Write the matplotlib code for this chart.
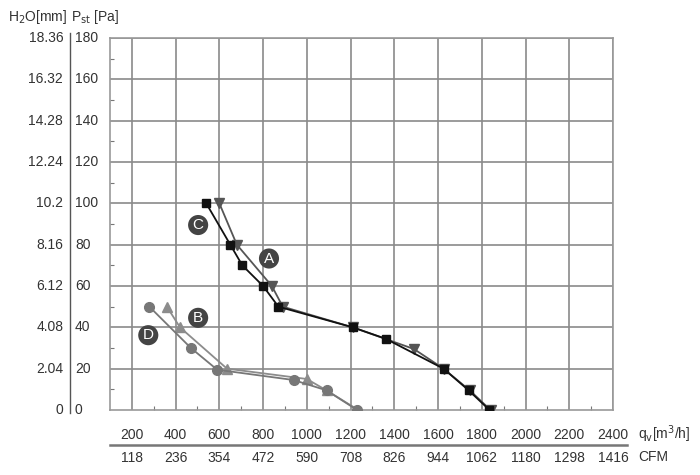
import numpy as np
import matplotlib.pyplot as plt

plt.rcParams['font.family'] = ['Liberation Sans', 'DejaVu Sans']

# flow rate q_v [m3/h] and static pressure P_st [Pa] for each curve
a_q = [600, 680, 840, 890, 1210, 1490, 1625, 1745, 1840]
a_p = [100, 80, 60, 50, 40, 29.5, 20, 9.5, 0]
c_q = [540, 650, 705, 800, 870, 1210, 1360, 1625, 1740, 1835]
c_p = [100, 80, 70, 60, 50, 40, 34.5, 20, 9.5, 0]
b_q = [360, 420, 635, 1000, 1090, 1235]
b_p = [50, 40, 20, 15, 9.5, 0]
d_q = [280, 470, 590, 940, 1090, 1230]
d_p = [50, 30, 19.5, 14.5, 9.5, 0]

# curve name tags (position in data units)
tag_names = ["C", "A", "B", "D"]
tag_q = [503, 827, 503, 275]
tag_p = [89.5, 73.3, 44.6, 36.2]

pa_ticks = [0, 20, 40, 60, 80, 100, 120, 140, 160, 180]
mm_labels = ["0", "2.04", "4.08", "6.12", "8.16", "10.2", "12.24", "14.28", "16.32", "18.36"]
q_ticks = [200, 400, 600, 800, 1000, 1200, 1400, 1600, 1800, 2000, 2200, 2400]
cfm_labels = ["118", "236", "354", "472", "590", "708", "826", "944", "1062", "1180", "1298", "1416"]

txt = "#333333"
fig = plt.figure(figsize=(7, 4.75), dpi=100)
ax = fig.add_axes([110/700, 1-410/475, 503/700, 372/475])
ax.set_xlim(100, 2400)
ax.set_ylim(0, 180)

for q in q_ticks:
    ax.axvline(q, color="#8a8a8a", lw=1.2, zorder=1)
for p in pa_ticks[1:]:
    ax.axhline(p, color="#8a8a8a", lw=1.2, zorder=1)
for s in ax.spines.values():
    s.set_color("#999999")
    s.set_linewidth(1.2)

# minor ticks, inside
ax.set_xticks(np.arange(300, 2400, 200))
ax.set_yticks(np.arange(10, 180, 20))
ax.tick_params(direction="in", length=3, color="#777777", labelbottom=False, labelleft=False)

ax.plot(b_q, b_p, color="#8c8c8c", lw=1.3, marker="^", ms=7.5, zorder=3)
ax.plot(d_q, d_p, color="#777777", lw=1.3, marker="o", ms=7, zorder=3)
ax.plot(a_q, a_p, color="#555555", lw=1.3, marker="v", ms=7.5, zorder=4)
ax.plot(c_q, c_p, color="#111111", lw=1.3, marker="s", ms=6, zorder=5)

for n, q, p in zip(tag_names, tag_q, tag_p):
    ax.text(q, p, n, color="white", fontsize=11, ha="center", va="center", zorder=6,
            bbox=dict(boxstyle="circle,pad=0.2", fc="#444444", ec="none"))

# left double scale
for p, mm in zip(pa_ticks, mm_labels):
    ax.text(-0.093, p, mm, transform=ax.get_yaxis_transform(), ha="right", va="center",
            fontsize=10, color=txt)
    ax.text(-0.0696, p, str(p), transform=ax.get_yaxis_transform(), ha="left", va="center",
            fontsize=10, color=txt)
fig.add_artist(plt.Line2D([70/700, 70/700], [1-413/475, 1-33/475], color="#555555", lw=1))
fig.text(8/700, 1-17/475, "H$_2$O[mm]", fontsize=10, color=txt, va="center")
fig.text(71/700, 1-17/475, "P$_{\\mathrm{st}}$ [Pa]", fontsize=10, color=txt, va="center")

# bottom double scale
for q, cfm in zip(q_ticks, cfm_labels):
    ax.text(q, -0.067, str(q), transform=ax.get_xaxis_transform(), ha="center", va="center",
            fontsize=10, color=txt)
    ax.text(q, -0.128, cfm, transform=ax.get_xaxis_transform(), ha="center", va="center",
            fontsize=10, color=txt)
fig.add_artist(plt.Line2D([110/700, 627/700], [1-445/475, 1-445/475], color="#777777", lw=1.8))
fig.text(638/700, 1-434/475, "q$_{\\mathrm{v}}$[m$^3$/h]", fontsize=10, color=txt, va="center")
fig.text(638/700, 1-457/475, "CFM", fontsize=10, color=txt, va="center")

fig.savefig("out.png", dpi=100)
